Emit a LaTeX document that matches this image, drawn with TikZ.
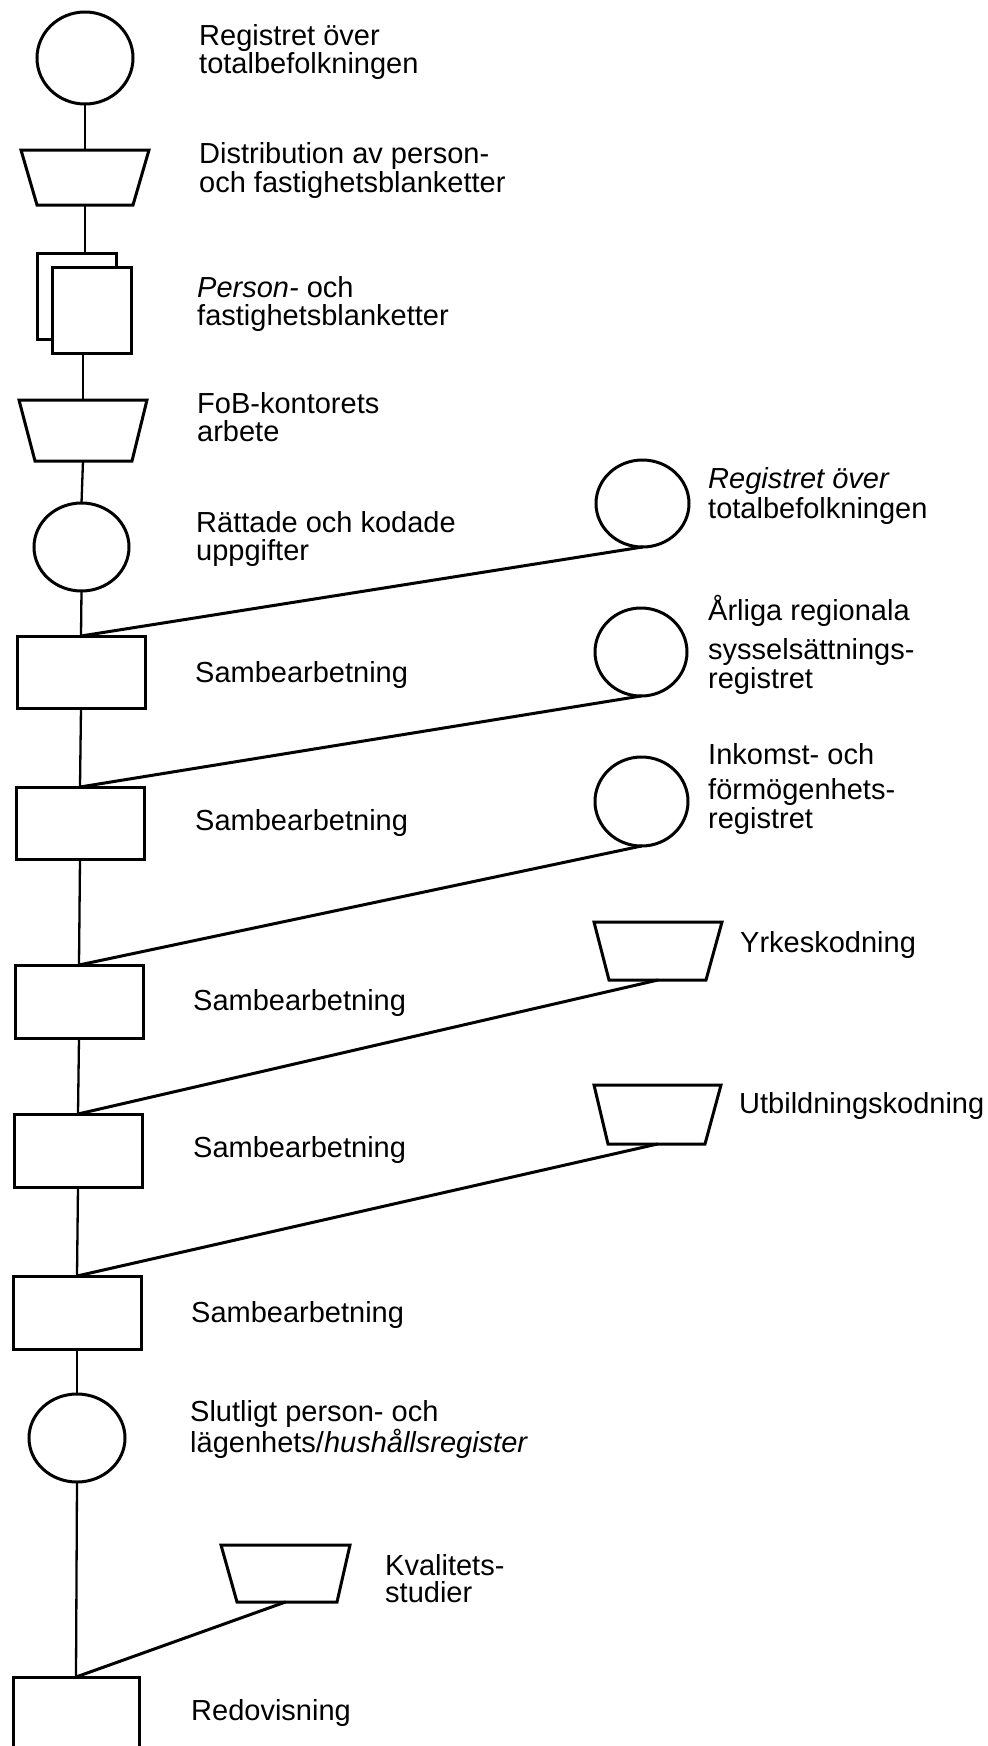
\documentclass[tikz,border=0pt]{standalone}
\usepackage{fontspec}
\setmainfont{Liberation Sans}
\usetikzlibrary{shapes.geometric}
\begin{document}
\begin{tikzpicture}[x=1pt,y=-1pt,
  shp/.style={draw=black, line width=3pt, fill=white, inner sep=0pt, outer sep=0pt},
  circ/.style={shp, ellipse},
  boxn/.style={shp, rectangle},
  tbox/.style={rectangle, inner sep=0pt, outer sep=0pt},
  trapline/.style={draw=black, line width=3pt, fill=white, line join=miter},
  lbl/.style={anchor=base west, inner sep=0pt, align=left, font=\fontsize{29}{28}\selectfont},
  vline/.style={line width=2.3pt},
  dline/.style={line width=3pt, line cap=round},
]
\fill[white] (0,0) rectangle (988,1746);
\useasboundingbox (0,0) rectangle (988,1746);

% main column
\node[circ, minimum width=96pt, minimum height=92pt] (c1) at (85,58) {};
\node[tbox, minimum width=128pt, minimum height=55pt] (t1) at (85,177.5) {};
\draw[trapline] (t1.north west) -- (t1.north east) -- ([xshift=-16pt]t1.south east) -- ([xshift=16pt]t1.south west) -- cycle;
\node[boxn, minimum width=79pt, minimum height=86pt] (docb) at (76.5,296) {};
\node[boxn, minimum width=79pt, minimum height=86pt] (docf) at (91.5,310) {};
\node[tbox, minimum width=128pt, minimum height=61pt] (t2) at (83,430.5) {};
\draw[trapline] (t2.north west) -- (t2.north east) -- ([xshift=-15pt]t2.south east) -- ([xshift=16pt]t2.south west) -- cycle;
\node[circ, minimum width=95pt, minimum height=88pt] (rat) at (81.5,547) {};
\node[boxn, minimum width=128pt, minimum height=72pt] (b1) at (81,672) {};
\node[boxn, minimum width=128pt, minimum height=72pt] (b2) at (80,823) {};
\node[boxn, minimum width=128pt, minimum height=73pt] (b3) at (79,1001.5) {};
\node[boxn, minimum width=128pt, minimum height=73pt] (b4) at (78,1150.5) {};
\node[boxn, minimum width=128pt, minimum height=73pt] (b5) at (77,1312.5) {};
\node[circ, minimum width=96pt, minimum height=88pt] (fin) at (77,1438) {};
\node[boxn, minimum width=126pt, minimum height=76pt] (b6) at (76,1715) {};

% right column
\node[circ, minimum width=93pt, minimum height=87pt] (r1) at (642.5,503.5) {};
\node[circ, minimum width=92pt, minimum height=88pt] (r2) at (641,652) {};
\node[circ, minimum width=93pt, minimum height=89pt] (r3) at (641.5,801.5) {};
\node[tbox, minimum width=128pt, minimum height=58pt] (yk) at (658,951) {};
\draw[trapline] (yk.north west) -- (yk.north east) -- ([xshift=-16pt]yk.south east) -- ([xshift=15pt]yk.south west) -- cycle;
\node[tbox, minimum width=127pt, minimum height=59pt] (ut) at (657.5,1114.5) {};
\draw[trapline] (ut.north west) -- (ut.north east) -- ([xshift=-16pt]ut.south east) -- ([xshift=14pt]ut.south west) -- cycle;
\node[tbox, minimum width=129pt, minimum height=57pt] (kv) at (285.5,1573.5) {};
\draw[trapline] (kv.north west) -- (kv.north east) -- ([xshift=-13pt]kv.south east) -- ([xshift=16pt]kv.south west) -- cycle;

% vertical connectors
\draw[vline] (c1.south) -- (t1.north);
\draw[vline] (t1.south) -- (t1.south |- docb.north);
\draw[vline] (t2.north |- docf.south) -- (t2.north);
\draw[vline] (t2.south) -- (rat.north);
\draw[vline] (rat.south) -- (b1.north);
\draw[vline] (b1.south) -- (b2.north);
\draw[vline] (b2.south) -- (b3.north);
\draw[vline] (b3.south) -- (b4.north);
\draw[vline] (b4.south) -- (b5.north);
\draw[vline] (b5.south) -- (fin.north);
\draw[vline] (fin.south) -- (b6.north);

% diagonal connectors
\draw[dline] (r1.south) -- (b1.north);
\draw[dline] (r2.south) -- (b2.north);
\draw[dline] (r3.south) -- (b3.north);
\draw[dline] (yk.south) -- (b4.north);
\draw[dline] (ut.south) -- (b5.north);
\draw[dline] (kv.south) -- (b6.north);

% labels (base anchor = baseline of the last line)
\node[lbl] (lc1) at (199,73) {Registret över\\totalbefolkningen};
\node[lbl, font=\fontsize{29}{27}\selectfont] (lt1) at (199,192) {Distribution av person-\\och fastighetsblanketter};
\node[lbl] (ldoc) at (197,325) {\textit{Person-} och\\fastighetsblanketter};
\node[lbl] (lt2) at (197,441) {FoB-kontorets\\arbete};
\node[lbl] (lrat) at (196,560) {Rättade och kodade\\uppgifter};
\node[lbl] (lb1) at (195,682) {Sambearbetning};
\node[lbl] (lb2) at (195,830) {Sambearbetning};
\node[lbl] (lb3) at (193,1010) {Sambearbetning};
\node[lbl] (lb4) at (193,1157) {Sambearbetning};
\node[lbl] (lb5) at (191,1322) {Sambearbetning};
\node[lbl, font=\fontsize{29}{29}\selectfont] (lfin) at (190,1452) {Slutligt person- och\\lägenhets/\textit{hushållsregister}};
\node[lbl] (lb6) at (191,1720) {Redovisning};

\node[lbl, font=\fontsize{29}{30}\selectfont] (lr1) at (708,518) {\textit{Registret över}\\totalbefolkningen};
\node[lbl, font=\fontsize{29}{27}\selectfont] (lr2) at (708,688) {Årliga regionala\\[11pt]sysselsättnings-\\registret};
\node[lbl, font=\fontsize{29}{27}\selectfont] (lr3) at (708,828) {Inkomst- och\\[8pt]förmögenhets-\\registret};
\node[lbl] (lyk) at (740,952) {Yrkeskodning};
\node[lbl] (lut) at (739,1113) {Utbildningskodning};
\node[lbl, font=\fontsize{29}{27}\selectfont] (lkv) at (385,1602) {Kvalitets-\\studier};
\end{tikzpicture}
\end{document}
